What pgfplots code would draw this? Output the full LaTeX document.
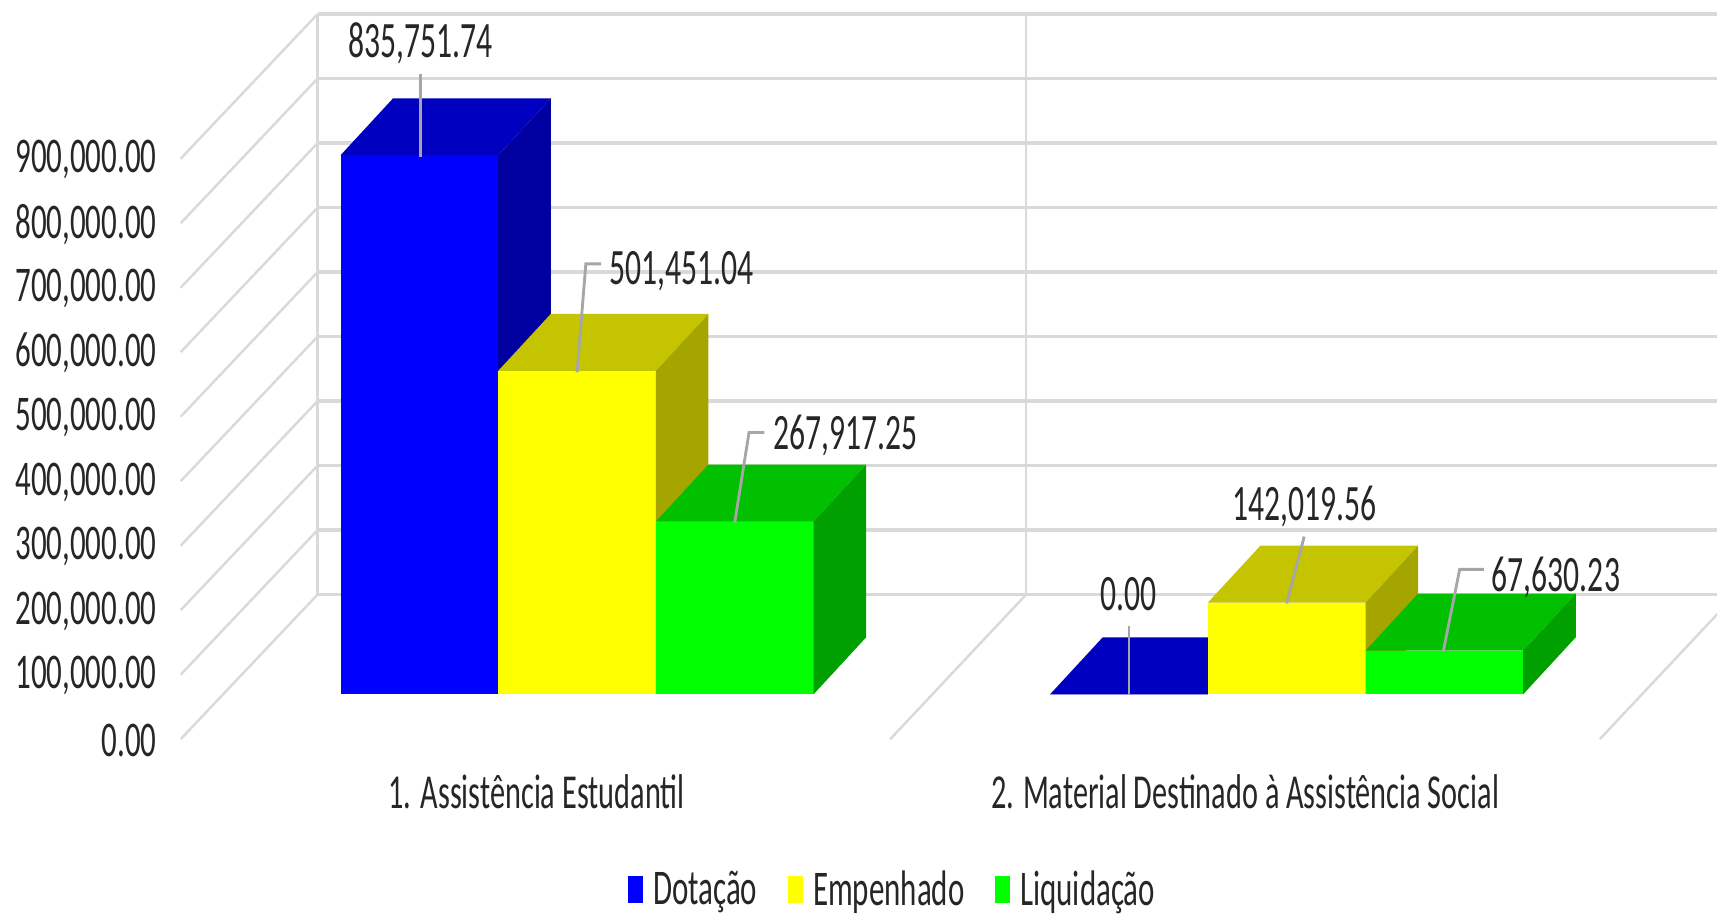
\documentclass[border=0pt]{standalone}
\usepackage{fontspec}
\setmainfont[FakeStretch=0.62]{Carlito}
\usepackage{pgfplots}
\usepackage{pgfplotstable}
\pgfplotsset{compat=1.18}

\definecolor{gridc}{HTML}{D9D9D9}
\definecolor{leader}{HTML}{A6A6A6}
\definecolor{txt}{HTML}{262626}
\definecolor{cblue}{HTML}{0000FF}
\definecolor{bluetop}{HTML}{0000C0}
\definecolor{blueside}{HTML}{0000A0}
\definecolor{cyellow}{HTML}{FFFF00}
\definecolor{yellowtop}{HTML}{C4C400}
\definecolor{yellowside}{HTML}{A5A500}
\definecolor{cgreen}{HTML}{00FF00}
\definecolor{greentop}{HTML}{00C000}
\definecolor{greenside}{HTML}{00A000}

% unit faces of a bar: a = across, h = height, d = depth
\pgfplotstableread{
a h d
0 0 0
1 0 0
1 1 0
0 1 0
}\facefront
\pgfplotstableread{
a h d
0 1 0
1 1 0
1 1 1
0 1 1
}\facetop
\pgfplotstableread{
a h d
1 0 0
1 0 1
1 1 1
1 1 0
}\faceside

% x position, value, front colour, top colour, side colour
\newcommand{\cuboid}[5]{%
  \addplot[draw=none,fill=#3,forget plot] table[x expr=#1+\thisrow{a}*144+\thisrow{d}*48,y expr=69610+#2*\thisrow{h}+\thisrow{d}*88300] {\facefront} --cycle;
  \addplot[draw=none,fill=#4,forget plot] table[x expr=#1+\thisrow{a}*144+\thisrow{d}*48,y expr=69610+#2*\thisrow{h}+\thisrow{d}*88300] {\facetop} --cycle;
  \addplot[draw=none,fill=#5,forget plot] table[x expr=#1+\thisrow{a}*144+\thisrow{d}*48,y expr=69610+#2*\thisrow{h}+\thisrow{d}*88300] {\faceside} --cycle;
}
\newcommand{\lbl}{\fontsize{22.8}{27}\selectfont\color{txt}}
\newcommand{\dlbl}{\fontsize{23.3}{27}\selectfont\color{txt}}
\newcommand{\clbl}{\fontsize{22.3}{27}\selectfont\color{txt}}

\begin{document}
\begin{tikzpicture}
\begin{axis}[
  scale only axis,
  width=784pt,height=418.5pt,
  xmin=0,xmax=1568,
  ymin=-275044,ymax=1146015,
  axis line style={draw=none},
  major tick length=0pt,
  no markers,
  scaled y ticks=false,
  ytick={0,100000,200000,300000,400000,500000,600000,700000,800000,900000},
  /pgf/number format/assume math mode=true,
  /pgf/number format/fixed,
  /pgf/number format/fixed zerofill,
  /pgf/number format/precision=2,
  /pgf/number format/1000 sep={,},
  yticklabel style={font=\lbl,anchor=east,xshift=75pt,yshift=-0.5pt},
  xtick={490,1137},
  xticklabels={1. Assistência Estudantil,2. Material Destinado à Assistência Social},
  xticklabel style={font=\clbl,yshift=68.5pt},
  legend style={at={(0.5205,0.029)},anchor=center,draw=none,fill=none,font=\lbl,legend columns=3,
    /tikz/every even column/.append style={column sep=12pt}},
  legend image code/.code={\path[#1] (0pt,-6pt) rectangle (7pt,6.5pt);\path (9.5pt,0pt);},
]
\addlegendimage{fill=cblue,draw=none}
\addlegendentry{Dotação}
\addlegendimage{fill=cyellow,draw=none}
\addlegendentry{Empenhado}
\addlegendimage{fill=cgreen,draw=none}
\addlegendentry{Liquidação}

% walls and floor
\pgfplotsset{every axis plot/.append style={forget plot}}
\addplot[gridc,line width=1.1pt] coordinates {(165,0)(290,224100)};
\addplot[gridc,line width=1.1pt] coordinates {(165,100000)(290,324100)};
\addplot[gridc,line width=1.1pt] coordinates {(165,200000)(290,424100)};
\addplot[gridc,line width=1.1pt] coordinates {(165,300000)(290,524100)};
\addplot[gridc,line width=1.1pt] coordinates {(165,400000)(290,624100)};
\addplot[gridc,line width=1.1pt] coordinates {(165,500000)(290,724100)};
\addplot[gridc,line width=1.1pt] coordinates {(165,600000)(290,824100)};
\addplot[gridc,line width=1.1pt] coordinates {(165,700000)(290,924100)};
\addplot[gridc,line width=1.1pt] coordinates {(165,800000)(290,1024100)};
\addplot[gridc,line width=1.1pt] coordinates {(165,900000)(290,1124100)};
\addplot[gridc,line width=1.1pt] coordinates {(813,0)(937,224100)};
\addplot[gridc,line width=1.1pt] coordinates {(1461,0)(1585,224100)};
\addplot[gridc,line width=1.5pt] coordinates {(290,224100)(1600,224100)};
\addplot[gridc,line width=1.5pt] coordinates {(290,324100)(1600,324100)};
\addplot[gridc,line width=1.5pt] coordinates {(290,424100)(1600,424100)};
\addplot[gridc,line width=1.5pt] coordinates {(290,524100)(1600,524100)};
\addplot[gridc,line width=1.5pt] coordinates {(290,624100)(1600,624100)};
\addplot[gridc,line width=1.5pt] coordinates {(290,724100)(1600,724100)};
\addplot[gridc,line width=1.5pt] coordinates {(290,824100)(1600,824100)};
\addplot[gridc,line width=1.5pt] coordinates {(290,924100)(1600,924100)};
\addplot[gridc,line width=1.5pt] coordinates {(290,1024100)(1600,1024100)};
\addplot[gridc,line width=1.5pt] coordinates {(290,1124100)(1600,1124100)};
\addplot[gridc,line width=1.1pt] coordinates {(290,224100)(290,1124100)};
\addplot[gridc,line width=1.1pt] coordinates {(937,224100)(937,1124100)};

% bars
\cuboid{311}{835751.74}{cblue}{bluetop}{blueside}
\cuboid{455}{501451.04}{cyellow}{yellowtop}{yellowside}
\cuboid{599}{267917.25}{cgreen}{greentop}{greenside}
\cuboid{959}{0}{cblue}{bluetop}{blueside}
\cuboid{1103}{142019.56}{cyellow}{yellowtop}{yellowside}
\cuboid{1247}{67630.23}{cgreen}{greentop}{greenside}

% leader lines
\addplot[leader,line width=1.3pt] coordinates {(384,903230)(384,1030565)};
\addplot[leader,line width=1.3pt] coordinates {(527,568763)(535,736845)(549,736845)};
\addplot[leader,line width=1.3pt] coordinates {(671,336164)(684,475384)(698,475384)};
\addplot[leader,line width=1.3pt] coordinates {(1031,69610)(1031,174873)};
\addplot[leader,line width=1.3pt] coordinates {(1175,210527)(1191,314093)};
\addplot[leader,line width=1.3pt] coordinates {(1318,135824)(1333,263159)(1355,263159)};

% data labels
\node[font=\dlbl,yshift=-1pt] at (axis cs:384,1081500) {835,751.74};
\node[font=\dlbl,anchor=west,inner sep=0pt,yshift=-1pt] at (axis cs:556,728356) {501,451.04};
\node[font=\dlbl,anchor=west,inner sep=0pt,yshift=-1pt] at (axis cs:706,473686) {267,917.25};
\node[font=\dlbl] at (axis cs:1031,224110) {0.00};
\node[font=\dlbl,yshift=-1pt] at (axis cs:1191,363329) {142,019.56};
\node[font=\dlbl,anchor=west,inner sep=0pt,yshift=-1pt] at (axis cs:1362,254670) {67,630.23};
\end{axis}
% page is the axis box, the legend sits close to its lower edge
\pgfresetboundingbox
\path (0,0) rectangle (784pt,418.5pt);
\end{tikzpicture}
\end{document}
